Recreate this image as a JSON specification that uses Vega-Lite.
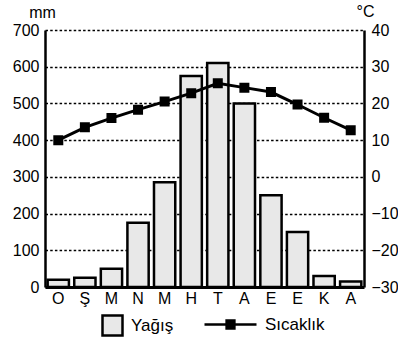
{
  "$schema": "https://vega.github.io/schema/vega-lite/v6.json",
  "width": 319,
  "height": 257,
  "autosize": {"type": "none"},
  "padding": {"left": 45, "top": 30, "right": 34, "bottom": 53},
  "background": "white",
  "config": {
    "font": "Liberation Sans",
    "view": {"stroke": null},
    "axis": {"labelColor": "black", "labelFontSize": 16, "titleColor": "black", "titleFontWeight": "normal", "domainColor": "black", "ticks": false, "tickSize": 0},
    "legend": {"labelColor": "black", "labelFont": "Liberation Sans"}
  },
  "data": {
    "values": [
      {"ay": "Ocak", "yagis": 20, "sicaklik": 10},
      {"ay": "Şubat", "yagis": 25, "sicaklik": 13.5},
      {"ay": "Mart", "yagis": 50, "sicaklik": 16},
      {"ay": "Nisan", "yagis": 175, "sicaklik": 18.3},
      {"ay": "Mayıs", "yagis": 285, "sicaklik": 20.5},
      {"ay": "Haziran", "yagis": 575, "sicaklik": 22.8},
      {"ay": "Temmuz", "yagis": 610, "sicaklik": 25.5},
      {"ay": "Ağustos", "yagis": 500, "sicaklik": 24.3},
      {"ay": "Eylül", "yagis": 250, "sicaklik": 23.1},
      {"ay": "Ekim", "yagis": 150, "sicaklik": 19.7},
      {"ay": "Kasım", "yagis": 30, "sicaklik": 16.1},
      {"ay": "Aralık", "yagis": 15, "sicaklik": 12.7}
    ]
  },
  "encoding": {
    "x": {
      "field": "ay", "type": "ordinal", "sort": null,
      "scale": {"paddingInner": 0.2, "paddingOuter": 0.1},
      "axis": {"title": null, "labelAngle": 0, "labelExpr": "substring(datum.value, 0, 1)", "domainWidth": 3, "labelPadding": 3, "labelFontSize": 16}
    }
  },
  "layer": [
    {
      "mark": {"type": "bar", "stroke": "black", "strokeWidth": 2.5},
      "encoding": {
        "y": {
          "field": "yagis", "type": "quantitative",
          "scale": {"domain": [0, 700], "nice": false},
          "axis": {"values": [0, 100, 200, 300, 400, 500, 600, 700], "title": "mm", "titleAngle": 0, "titleAlign": "center", "titleBaseline": "alphabetic", "titleX": -3, "titleY": -13, "titleFontSize": 16, "domainWidth": 2.5, "labelPadding": 6, "grid": true, "gridColor": "black", "gridDash": [2.5, 2.2], "gridWidth": 1.4, "gridOpacity": 1}
        },
        "fill": {
          "datum": "Yağış", "type": "nominal",
          "scale": {"range": ["#e8e8e8"]},
          "legend": {"orient": "none", "legendX": 56, "legendY": 284, "title": null, "symbolType": "square", "symbolSize": 400, "symbolStrokeColor": "black", "symbolStrokeWidth": 2.5, "labelFontSize": 17, "labelOffset": 7}
        }
      }
    },
    {
      "mark": {"type": "line", "strokeWidth": 3, "point": {"shape": "square", "size": 64, "filled": true, "fill": "black", "stroke": "black"}},
      "encoding": {
        "y": {
          "field": "sicaklik", "type": "quantitative",
          "scale": {"domain": [-30, 40], "nice": false},
          "axis": {"orient": "right", "values": [-30, -20, -10, 0, 10, 20, 30, 40], "title": "°C", "titleAngle": 0, "titleAlign": "center", "titleBaseline": "alphabetic", "titleX": 1, "titleY": -14, "titleFontSize": 16, "domainWidth": 2.5, "labelPadding": 7, "grid": false}
        },
        "stroke": {
          "datum": "Sıcaklık", "type": "nominal",
          "scale": {"range": ["black"]},
          "legend": {"orient": "none", "legendX": 158, "legendY": 267, "title": null, "symbolType": "M-1,0L1,0M-0.15,-0.15L0.15,-0.15L0.15,0.15L-0.15,0.15Z", "symbolSize": 2704, "symbolStrokeWidth": 2.5, "symbolFillColor": "black", "symbolStrokeColor": "black", "labelFontSize": 17, "labelOffset": 7}
        }
      }
    }
  ],
  "resolve": {"scale": {"y": "independent"}}
}
